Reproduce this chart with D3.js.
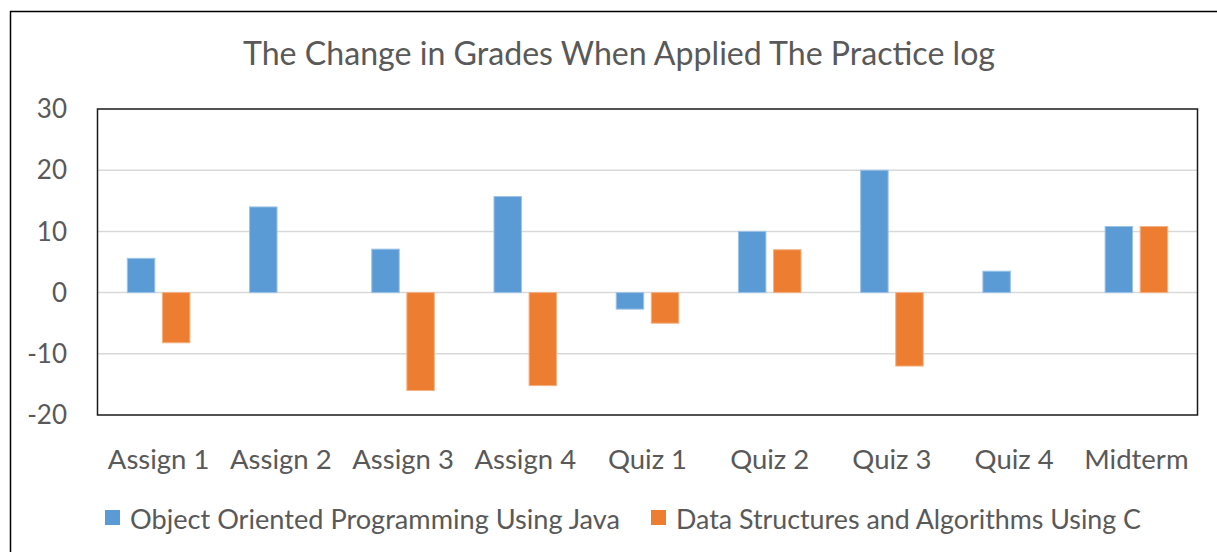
<!DOCTYPE html>
<html>
<head>
<meta charset="utf-8">
<script src="https://cdn.jsdelivr.net/npm/d3@7"></script>
<style>
  html, body { margin: 0; padding: 0; background: #fff; }
  svg text { font-family: Lato, "Noto Sans", sans-serif; fill: #595959; }
</style>
</head>
<body>
<div id="app"></div>
<script>
;(() => {
  // chart data
  const categories = ['Assign 1', 'Assign 2', 'Assign 3', 'Assign 4', 'Quiz 1', 'Quiz 2', 'Quiz 3', 'Quiz 4', 'Midterm']
  const series = ['Object Oriented Programming Using Java', 'Data Structures and Algorithms Using C']
  const javaValues = [5.6, 14, 7.1, 15.7, -2.7, 10, 20, 3.5, 10.8]
  const cValues = [-8.2, 0, -16, -15.2, -5, 7, -12, 0, 10.8]
  const yTicks = [-20, -10, 0, 10, 20, 30]
  const title = 'The Change in Grades When Applied The Practice log'

  const colors = ['#5B9BD5', '#ED7D31']
  const strokes = ['#9dc3e6', '#f4b183']

  const W = 1217, H = 552
  const plot = { left: 97.5, right: 1197.5, top: 109, bottom: 415 }

  const svg = d3.create('svg').attr('width', W).attr('height', H)

  // outer chart border (only top + left visible in the crop)
  svg.append('path')
    .attr('d', `M10.5,${H} V11.5 H${W}`)
    .attr('fill', 'none').attr('stroke', '#000').attr('stroke-width', 1.5)

  svg.append('text')
    .attr('x', 619).attr('y', 65)
    .attr('text-anchor', 'middle')
    .attr('font-size', 32)
    .attr('textLength', 752)
    .attr('lengthAdjust', 'spacingAndGlyphs')
    .text(title)

  const x = d3.scaleBand().domain(categories).range([plot.left, plot.right])
  const xs = d3.scaleBand().domain(series)
    .range([x.bandwidth() * 0.244, x.bandwidth() * 0.756])
    .paddingInner(0.217)
  const y = d3.scaleLinear().domain([-20, 30]).range([plot.bottom, plot.top])

  // gridlines
  svg.append('g').selectAll('line').data(yTicks.filter(d => d > -20 && d < 30)).join('line')
    .attr('x1', plot.left).attr('x2', plot.right)
    .attr('y1', d => y(d)).attr('y2', d => y(d))
    .attr('stroke', '#d9d9d9').attr('stroke-width', 1.5)

  // bars
  const rows = categories.map((c, i) => ({ cat: c, vals: [javaValues[i], cValues[i]] }))
  const g = svg.append('g').selectAll('g').data(rows).join('g')
    .attr('transform', d => `translate(${x(d.cat)},0)`)
  g.selectAll('rect')
    .data(d => d.vals.map((v, k) => ({ v, k })).filter(e => e.v !== 0))
    .join('rect')
    .attr('x', d => xs(series[d.k]))
    .attr('width', xs.bandwidth())
    .attr('y', d => Math.min(y(d.v), y(0)))
    .attr('height', d => Math.abs(y(d.v) - y(0)))
    .attr('fill', d => colors[d.k])
    .attr('stroke', d => strokes[d.k])
    .attr('stroke-width', 1)

  // plot border
  svg.append('rect')
    .attr('x', plot.left).attr('y', plot.top)
    .attr('width', plot.right - plot.left).attr('height', plot.bottom - plot.top)
    .attr('fill', 'none').attr('stroke', '#1a1a1a').attr('stroke-width', 1.5)

  // y axis labels
  svg.append('g').selectAll('text').data(yTicks).join('text')
    .attr('x', 67).attr('y', d => y(d))
    .attr('dy', '0.35em')
    .attr('text-anchor', 'end')
    .attr('font-size', 26)
    .text(d => d)

  // x axis labels
  svg.append('g').selectAll('text').data(categories).join('text')
    .attr('x', d => x(d) + x.bandwidth() / 2)
    .attr('y', 469)
    .attr('text-anchor', 'middle')
    .attr('font-size', 27.5)
    .text(d => d)

  // legend
  const legendX = [105, 651]
  const legendLen = [490, 465]
  const lg = svg.append('g').selectAll('g').data(series).join('g')
    .attr('transform', (d, i) => `translate(${legendX[i]},510)`)
  lg.append('rect').attr('width', 15).attr('height', 15).attr('fill', (d, i) => colors[i])
  lg.append('text').attr('x', 25).attr('y', 18.5).attr('font-size', 26)
    .attr('textLength', (d, i) => legendLen[i])
    .attr('lengthAdjust', 'spacingAndGlyphs')
    .text(d => d)

  d3.select('#app').append(() => svg.node())
})()
</script>
</body>
</html>
